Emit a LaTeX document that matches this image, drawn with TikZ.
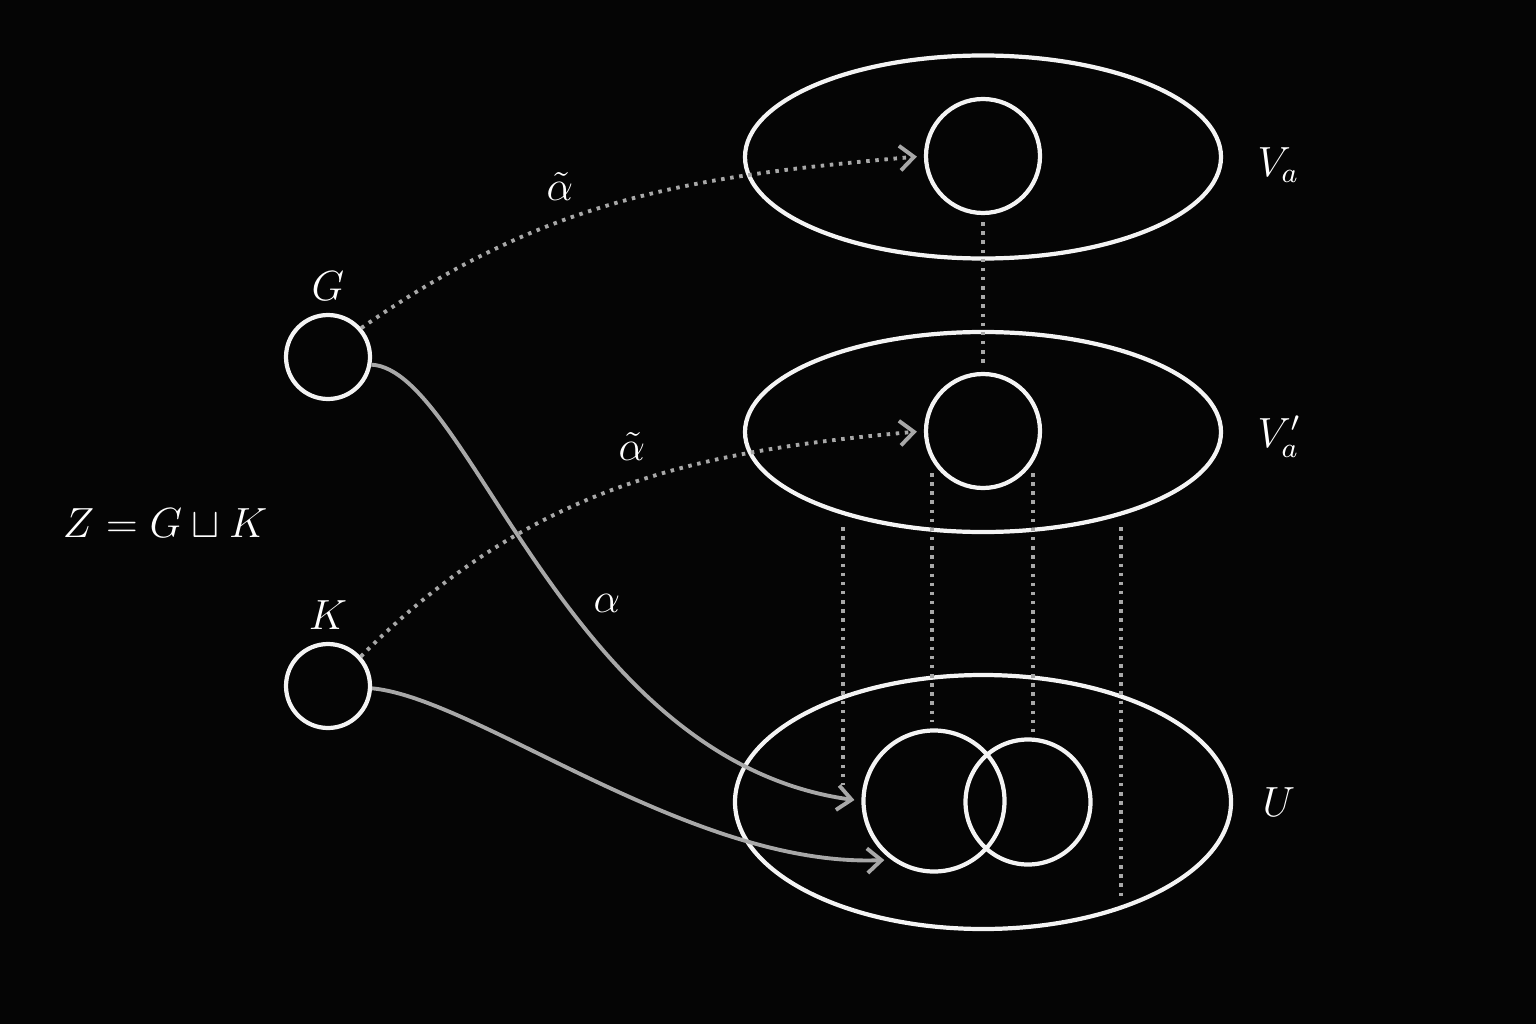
\documentclass[tikz,border=0pt]{standalone}
\usepackage{tikz}
\usetikzlibrary{positioning}
\usetikzlibrary{shapes.geometric}
\usetikzlibrary{arrows.meta}
\definecolor{BG}{HTML}{050505}
\definecolor{LINE}{HTML}{F4F4F4}
\definecolor{GREY}{HTML}{A8A8A8}
\tikzset{
	every node/.style = {font=\large, text=white}
}
\tikzset{space/.style={ellipse, draw=LINE, line width=1.2pt, minimum width=4.76cm, minimum height=2.03cm, inner sep=0pt},
blob/.style={circle, draw=LINE, line width=1.2pt, minimum size=#1, inner sep=0pt},
%default disc is the one inside V_a
blob/.default={1.14cm},
map/.style={draw=GREY, line width=1.1pt, shorten >=2pt, -{Straight Barb[length=4pt,width=7pt]}},
lift/.style={map, dash pattern=on 1pt off 1.6pt},
fibre/.style={draw=GREY, line width=1pt, dash pattern=on 1pt off 1.6pt}}

\begin{document}
\begin{tikzpicture}
		% background
		\fill[BG] (0,0) rectangle (15.36,10.24);
		% V_a, V_a', U
		\node[space] (Va) at (9.83,8.67) {};
		\node[space, minimum height=2cm] (Vap) at (9.83,5.92) {};
		\node[space, minimum width=4.96cm, minimum height=2.54cm] (U) at (9.83,2.22) {};
		\node[right=0.22cm of Va, yshift=-0.08cm] (VaLab) {$V_a$};
		\node[right=0.22cm of Vap, yshift=-0.05cm] (VapLab) {$V_a'$};
		\node[right=0.17cm of U] (ULab) {$U$};
		% discs
		\node[blob] (va) at (9.83,8.68) {};
		\node[blob] (vap) at (9.83,5.93) {};
		\node[blob=1.41cm] (uL) at (9.34,2.23) {};
		\node[blob=1.25cm] (uR) at (10.28,2.22) {};
		% G and K
		\node[blob=0.84cm] (G) at (3.28,6.67) {};
		\node[blob=0.84cm] (K) at (3.28,3.38) {};
		\node[above=0pt of G] (GLab) {$G$};
		\node[above=0pt of K] (KLab) {$K$};
		\node (Z) at (1.65,5.01) {$Z = G \sqcup K$};
		% fibres
		\draw[fibre, shorten <=2pt, shorten >=1.5pt] (va) -- (vap);
		\foreach \n/\x/\t/\b in {a/8.43/4.97/2.39, b/9.32/5.51/3.02, c/10.33/5.51/2.92, d/11.21/4.97/1.27}{
			\coordinate (top\n) at (\x,\t);
			\coordinate (bot\n) at (\x,\b);
			\draw[fibre] (top\n) -- (bot\n);
		}
		% alpha
		\draw[map] (G.-10) .. controls +(0.98,-0.05) and +(-2.96,0.41) .. (uL.west);
		\draw[map] (K.-3) .. controls +(1.05,-0.1) and +(-2.0,-0.08) .. (uL.234);
		% lifts
		\draw[lift] (G.41) to[out=35, in=185] (va.west);
		\draw[lift] (K.42) to[out=45, in=185] (vap.west);
		\node (a1) at (5.60,8.37) {$\tilde{\alpha}$};
		\node (a2) at (6.32,5.77) {$\tilde{\alpha}$};
		\node (a3) at (6.07,4.21) {$\alpha$};
	\end{tikzpicture}
\end{document}
